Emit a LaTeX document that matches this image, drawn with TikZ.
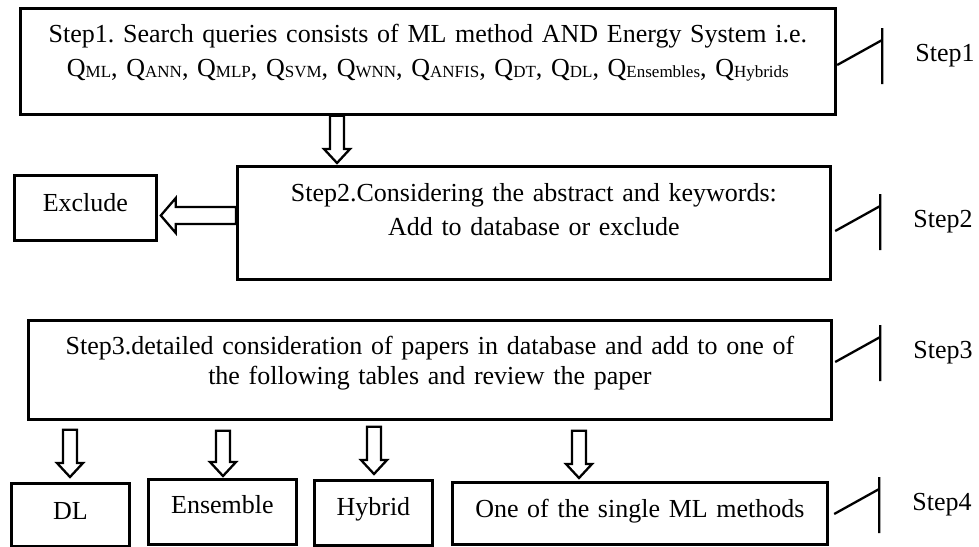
\documentclass[tikz,border=0pt]{standalone}
\usepackage{fontspec}
\setmainfont{Liberation Serif}
\usetikzlibrary{calc}
\frenchspacing

% Q with its query subscript
\newcommand{\qsub}[1]{Q\raisebox{-1.5pt}{\fontsize{17}{17}\selectfont #1}}
% hollow down arrow: x, from node, gap, to node, gap
\newcommand{\blockdown}[5]{%
  \coordinate (ba) at ($(#1,0 |- #2.south)+(0,#3)$);
  \coordinate (bb) at ($(#1,0 |- #4.north)+(0,-#5)$);
  \draw[blockarrow] ($(ba)+(-7,0)$) -- ($(bb)+(-7,-14)$) -- ($(bb)+(-13,-14)$) -- (bb)
    -- ($(bb)+(13,-14)$) -- ($(bb)+(7,-14)$) -- ($(ba)+(7,0)$) -- cycle;}
% step tick in front of a step label
\newcommand{\stepmark}[1]{%
  \draw[markline] ($(#1.west)+(-78,9)$) -- ($(#1.west)+(-33,-16)$)
    ($(#1.west)+(-33,-28)$) -- ++(0,56);}

\begin{document}
\begin{tikzpicture}[x=1pt, y=-1pt,
    every node/.style={font=\fontsize{26}{34}\selectfont},
    box/.style={draw, line width=2.8pt, inner sep=0pt, align=center, anchor=north west},
    lab/.style={inner sep=0pt},
    blockarrow/.style={draw, line width=2.3pt, fill=white, line join=miter},
    markline/.style={line width=2.3pt}]
    \fill[white] (0,0) rectangle (979,546);
    \useasboundingbox (0,0) rectangle (979,546);

    \node[box, text width=815pt, text height=34pt, text depth=72pt] (s1) at (19,7)
        {Step1. Search queries consists of ML method AND Energy System i.e.\\
         \qsub{ML}, \qsub{ANN}, \qsub{MLP}, \qsub{SVM}, \qsub{WNN}, \qsub{ANFIS}, \qsub{DT}, \qsub{DL}, \qsub{Ensembles}, \qsub{Hybrids}};
    \node[box, text width=593pt, text height=35pt, text depth=78pt] (s2) at (236,165)
        {Step2.Considering the abstract and keywords:\\ Add to database or exclude};
    \node[box, text width=142pt, text height=36pt, text depth=29pt] (ex) at (13,174) {Exclude};
    \node[box, text width=803pt, text height=34pt, text depth=65pt, font=\fontsize{26}{30}\selectfont] (s3) at (27,319)
        {Step3.detailed consideration of papers in database and add to one of\\ the following tables and review the paper};

    % the four tables
    \node[box, text width=118pt, text height=36pt, text depth=27pt] (dl) at (10,482) {DL};
    \node[box, text width=148pt, text height=34pt, text depth=31pt] (ens) at (147,478) {Ensemble};
    \node[box, text width=118pt, text height=35pt, text depth=30pt] (hyb) at (313,479) {Hybrid};
    \node[box, text width=375pt, text height=35pt, text depth=27pt] (single) at (451,481) {One of the single ML methods};

    % step labels
    \node[lab] (l1) at (945,56) {Step1};
    \node[lab] (l2) at (943,222) {Step2};
    \node[lab] (l3) at (943,353) {Step3};
    \node[lab] (l4) at (942,505) {Step4};
    \stepmark{l1}
    \stepmark{l2}
    \stepmark{l3}
    \stepmark{l4}

    % arrows
    \blockdown{337}{s1}{0}{s2}{2}
    \coordinate (la) at (s2.west |- 0,215.5);
    \coordinate (lb) at ($(ex.east |- 0,215.5)+(3,0)$);
    \draw[blockarrow] ($(la)+(0,-8.5)$) -- ($(lb)+(15,-8.5)$) -- ($(lb)+(15,-17.5)$) -- (lb)
        -- ($(lb)+(15,17.5)$) -- ($(lb)+(15,8.5)$) -- ($(la)+(0,8.5)$) -- cycle;
    \blockdown{70}{s3}{9}{dl}{5}
    \blockdown{223}{s3}{10}{ens}{2}
    \blockdown{374}{s3}{6}{hyb}{5}
    \blockdown{579}{s3}{10}{single}{3}
\end{tikzpicture}
\end{document}
